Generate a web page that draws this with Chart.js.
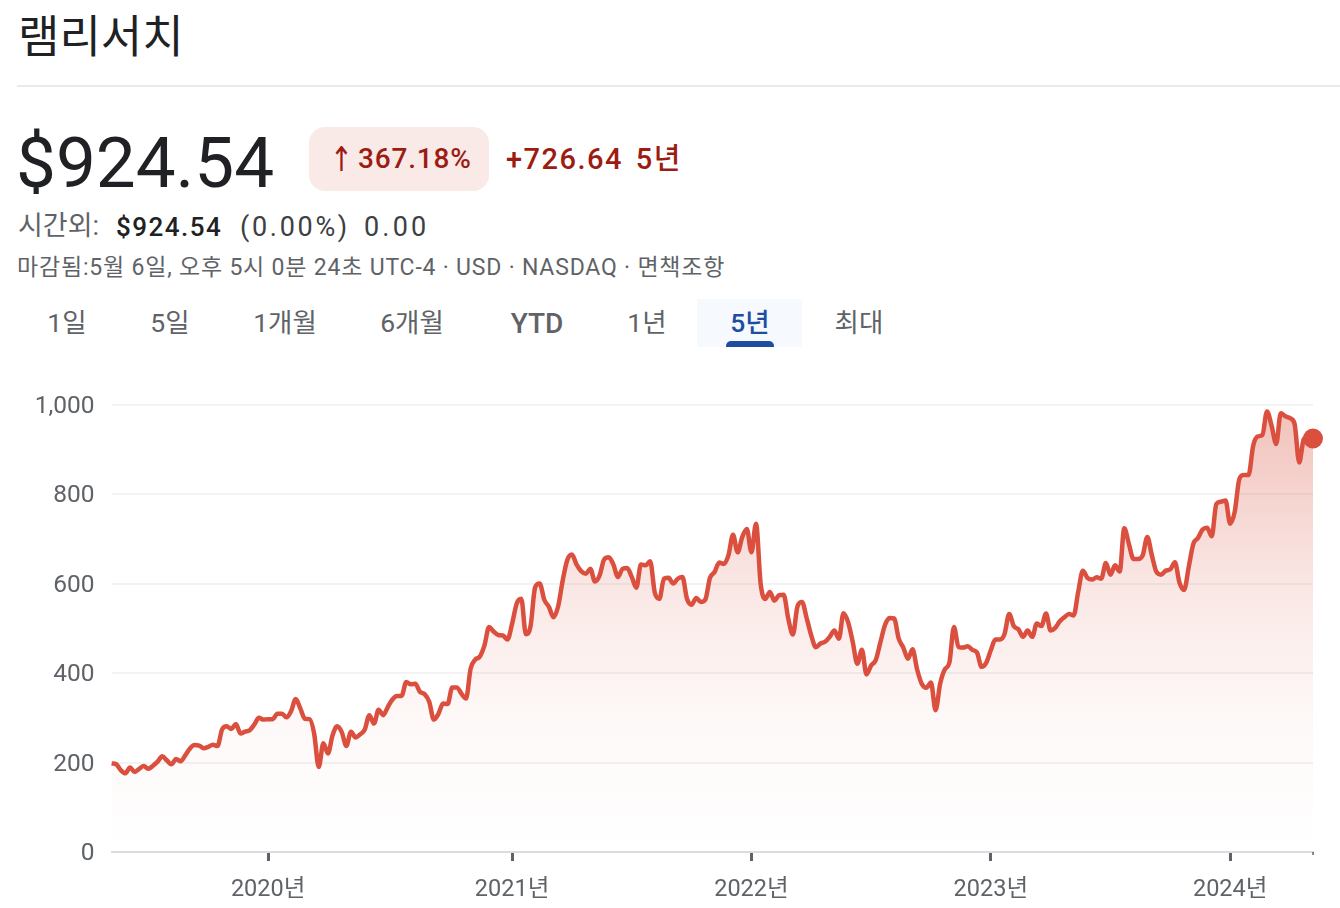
<!DOCTYPE html>
<html lang="ko">
<head>
<meta charset="UTF-8">
<title>램리서치</title>
<script src="https://cdn.jsdelivr.net/npm/chart.js"></script>
<style>
  html, body { margin: 0; padding: 0; background: #fff; }
  body { width: 1340px; height: 908px; position: relative; overflow: hidden;
         font-family: Roboto, "Noto Sans CJK KR", sans-serif; color: #202124; }
  .t { position: absolute; white-space: nowrap; line-height: 1; }
  .c { transform: translateX(-50%); }
  .gray { color: #5f6368; }
  .red { color: #9c1c12; }
  .tab { top: 310px; font-size: 26.5px; }
  #rule { position: absolute; left: 17px; right: 0; top: 85px; height: 2px; background: #e8eaed; }
  #badge { position: absolute; left: 309px; top: 127px; width: 180px; height: 64px; border-radius: 16px; background: #f9e9e7; }
  #tabBg { position: absolute; left: 697px; top: 299px; width: 105px; height: 48px; background: #f6f9fe; }
  #tabBar { position: absolute; left: 726px; top: 341px; width: 48px; height: 6px; background: #1f4ea1; border-radius: 5px 5px 0 0; }
  #chartBox { position: absolute; left: 0; top: 373px; width: 1340px; height: 535px; }
</style>
</head>
<body>
  <div class="t" style="left:18px;top:15px;font-size:45px;">램리서치</div>
  <div id="rule"></div>

  <div class="t" style="left:16px;top:127px;font-size:71px;">$924.54</div>
  <div id="badge"></div>
  <div class="t red" style="left:330px;top:142px;font-size:34px;font-family:'DejaVu Sans';transform:scaleX(0.8);transform-origin:left;">↑</div>
  <div class="t red" style="left:358px;top:145px;font-size:28px;font-weight:500;letter-spacing:0.8px;">367.18%</div>
  <div class="t red" style="left:506px;top:145px;font-size:29px;font-weight:500;letter-spacing:1.5px;word-spacing:4px;">+726.64 5년</div>

  <div class="t gray" style="left:18px;top:213px;font-size:27px;">시간외:</div>
  <div class="t" style="left:116px;top:214px;font-size:26px;font-weight:500;letter-spacing:1.5px;">$924.54</div>
  <div class="t" style="left:240px;top:214px;font-size:27px;color:#3c4043;letter-spacing:2.7px;">(0.00%)</div>
  <div class="t" style="left:364px;top:214px;font-size:27px;color:#3c4043;letter-spacing:3.2px;">0.00</div>
  <div class="t gray" style="left:17px;top:256px;font-size:23px;letter-spacing:0.8px;">마감됨:5월 6일, 오후 5시 0분 24초 UTC-4 · USD · NASDAQ · 면책조항</div>

  <div id="tabBg"></div>
  <div id="tabBar"></div>
  <div class="t gray c tab" style="left:67px;">1일</div>
  <div class="t gray c tab" style="left:170px;">5일</div>
  <div class="t gray c tab" style="left:285px;">1개월</div>
  <div class="t gray c tab" style="left:412px;">6개월</div>
  <div class="t gray c tab" style="left:537px;font-size:28px;font-weight:500;">YTD</div>
  <div class="t gray c tab" style="left:647px;">1년</div>
  <div class="t c tab" style="left:750px;font-weight:500;color:#1f4ea1;">5년</div>
  <div class="t gray c tab" style="left:859px;">최대</div>

  <div id="chartBox"><canvas id="priceChart"></canvas></div>

<script>
  // weekly closes (first week 2019-05-06)
  const prices = [
    198,196,183,176,189,179,186,192,186,193,
    202,214,205,196,208,203,216,231,239,238,
    232,235,240,237,274,281,275,286,265,269,
    272,285,300,296,297,297,309,309,301,315,
    342,321,298,297,265,190,243,220,261,281,
    268,237,269,256,263,274,306,287,318,306,
    324,341,349,349,380,375,376,358,353,336,
    296,309,332,331,368,368,354,343,410,430,
    437,462,503,493,485,484,475,510,555,566,
    487,504,591,600,564,548,525,549,607,653,
    665,643,628,622,633,605,618,654,659,643,
    615,633,635,615,591,643,641,650,580,566,
    611,613,600,611,615,566,553,568,559,565,
    613,626,647,644,663,709,670,704,722,670,
    734,600,566,581,562,574,575,522,486,549,
    559,523,484,458,466,470,481,495,477,534,
    514,470,421,452,397,417,429,468,507,523,
    522,477,457,432,453,408,376,367,379,317,
    376,408,423,503,458,457,460,452,446,414,
    423,451,475,475,488,532,505,498,481,495,
    481,511,505,533,495,501,516,525,532,529,
    582,629,613,609,614,611,646,620,641,627,
    724,689,655,655,663,704,663,626,620,629,
    632,648,602,586,637,689,702,721,725,706,
    778,783,786,734,761,834,843,843,908,929,
    932,985,953,912,981,974,970,957,871,923,
    928,924.54
  ];
  const yearTickIndex = [34, 87, 139, 191, 243];
  const yearTickLabels = ['2020년', '2021년', '2022년', '2023년', '2024년'];
  const yTicks = [0, 200, 400, 600, 800, 1000];

  const weekLabels = prices.map((p, i) => {
    const d = new Date(Date.UTC(2019, 4, 6 + i * 7));
    return d.toISOString().slice(0, 10);
  });

  function areaGradient(context) {
    const area = context.chart.chartArea;
    if (!area) return 'rgba(219,80,62,0.2)';
    const g = context.chart.ctx.createLinearGradient(0, area.top, 0, area.bottom);
    g.addColorStop(0, 'rgba(217,83,65,0.36)');
    g.addColorStop(0.4, 'rgba(217,83,65,0.14)');
    g.addColorStop(0.7, 'rgba(217,83,65,0.04)');
    g.addColorStop(1, 'rgba(217,83,65,0)');
    return g;
  }

  // little end-of-axis tick at the last week
  const lastTick = {
    id: 'lastTick',
    afterDraw(chart) {
      const x = chart.scales.x.getPixelForValue(prices.length - 1);
      const y = chart.chartArea.bottom;
      const c = chart.ctx;
      c.save();
      c.strokeStyle = '#5f6368';
      c.lineWidth = 1.5;
      c.beginPath();
      c.moveTo(x, y);
      c.lineTo(x, y + 3);
      c.stroke();
      c.restore();
    }
  };

  new Chart(document.getElementById('priceChart'), {
    type: 'line',
    plugins: [lastTick],
    data: {
      labels: weekLabels,
      datasets: [{
        data: prices,
        borderColor: '#db4f3f',
        borderWidth: 4.5,
        cubicInterpolationMode: 'monotone',
        fill: 'origin',
        backgroundColor: areaGradient,
        clip: false,
        pointRadius: ctx => ctx.dataIndex === prices.length - 1 ? 10 : 0,
        pointBackgroundColor: '#db4f3f',
        pointBorderWidth: 0
      }]
    },
    options: {
      responsive: true,
      maintainAspectRatio: false,
      animation: false,
      layout: { padding: { top: 16, right: 27, left: 0, bottom: 0 } },
      plugins: { legend: { display: false }, tooltip: { enabled: false } },
      scales: {
        x: {
          type: 'category',
          afterBuildTicks: scale => { scale.ticks = yearTickIndex.map(value => ({ value })); },
          afterFit: scale => { scale.height = 56; },
          border: { color: '#dadce0', width: 2 },
          grid: { drawOnChartArea: false, tickLength: 9, tickColor: '#5f6368', tickWidth: 3 },
          ticks: {
            autoSkip: false,
            maxRotation: 0,
            padding: 15,
            color: '#5f6368',
            font: { family: 'Roboto, "Noto Sans CJK KR"', size: 23.5 },
            callback: value => yearTickLabels[yearTickIndex.indexOf(value)]
          }
        },
        y: {
          min: 0,
          max: 1000,
          afterBuildTicks: scale => { scale.ticks = yTicks.map(value => ({ value })); },
          afterFit: scale => { scale.width = 111.6; },
          border: { display: false },
          grid: { color: '#f1f3f4', lineWidth: 2, drawTicks: false },
          ticks: {
            padding: 17,
            labelOffset: 2,
            color: '#5f6368',
            font: { family: 'Roboto', size: 24.5 },
            callback: value => value.toLocaleString('en-US')
          }
        }
      }
    }
  });
</script>
</body>
</html>
